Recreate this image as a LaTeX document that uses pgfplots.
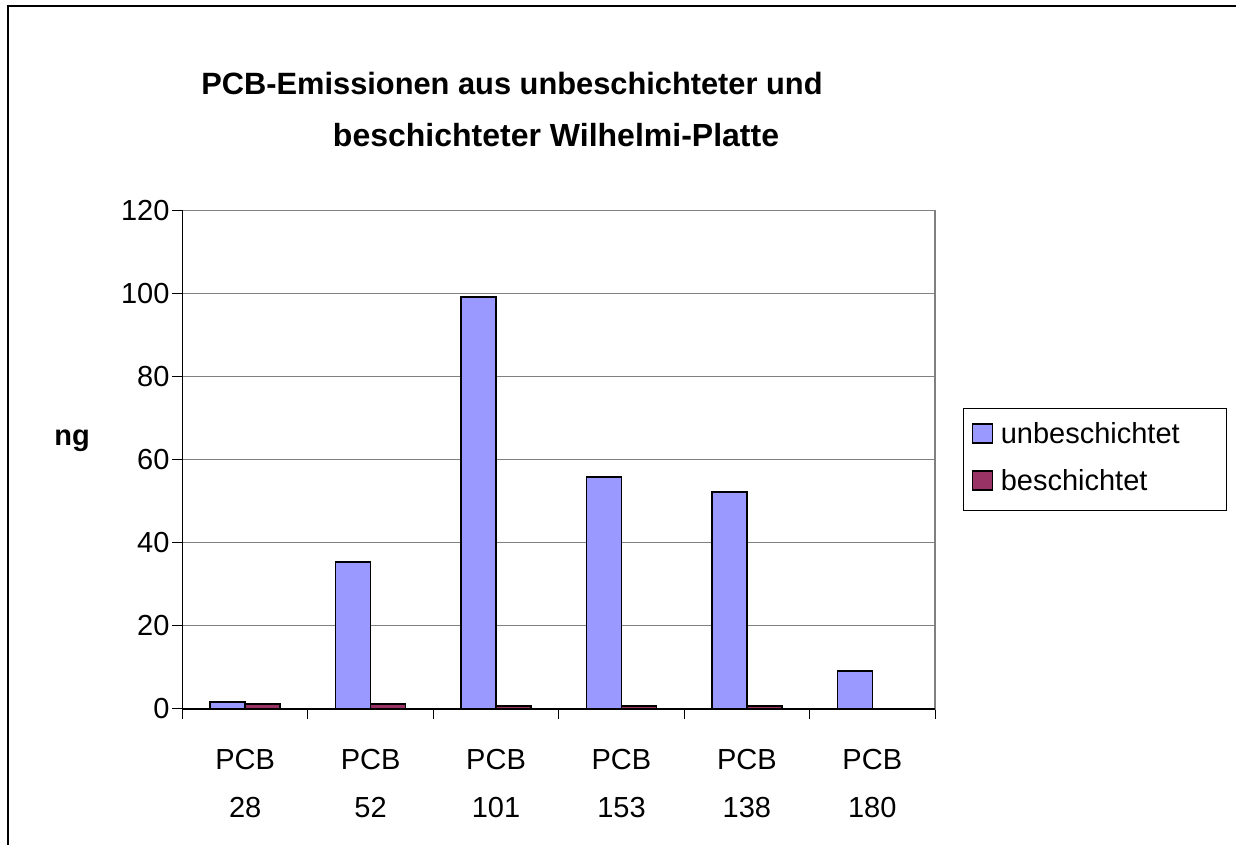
\documentclass[border=0pt]{standalone}
\usepackage{pgfplots}
\pgfplotsset{compat=1.18}
\usepackage{fontspec}
\setmainfont{Liberation Sans}
\definecolor{unb}{HTML}{9999FF}
\definecolor{bes}{HTML}{993366}
\definecolor{gridgray}{HTML}{808080}
\begin{document}
\begin{tikzpicture}
\path[use as bounding box] (0pt,0pt) rectangle (618pt,422.5pt);
\draw[black, line width=1.2pt] (4pt,0pt) -- (4pt,419.5pt) -- (618pt,419.5pt);
\node[font=\fontsize{15.4}{18}\selectfont\bfseries, anchor=base] at (256pt,375pt) {PCB-Emissionen aus unbeschichteter und};
\node[font=\fontsize{16}{18}\selectfont\bfseries, anchor=base] at (278pt,349pt) {beschichteter Wilhelmi-Platte};
\node[font=\fontsize{14.5}{17}\selectfont\bfseries] at (36pt,202pt) {ng};
\begin{axis}[
  at={(91.25pt,68pt)}, anchor=south west,
  scale only axis, width=376.25pt, height=249.25pt,
  ybar=0pt, bar width=17.5pt,
  xmin=-0.5, xmax=5.5, ymin=0, ymax=120,
  ytick={0,20,...,120},
  xtick={0,...,5},
  xticklabels={PCB\\28,PCB\\52,PCB\\101,PCB\\153,PCB\\138,PCB\\180},
  minor xtick={-0.5,0.5,...,5.5},
  tick pos=left, tick align=outside,
  major tick length=5pt, minor tick length=5pt,
  major x tick style={draw=none},
  tick style={black, line width=0.5pt},
  minor tick style={black, line width=0.5pt},
  ymajorgrids, major grid style={gridgray, line width=0.5pt},
  axis line style={gridgray, line width=0.8pt},
  /pgf/number format/assume math mode=true,
  ticklabel style={font=\fontsize{14.5}{24}\selectfont},
  xticklabel style={align=center, yshift=-11.5pt},
  yticklabel style={xshift=2pt},
  legend style={at={(rel axis cs:1.0372,0.6038)}, anchor=north west,
    draw=black, line width=0.6pt, font=\fontsize{14.5}{17}\selectfont,
    inner xsep=4pt, inner ysep=5pt, row sep=6pt,
    nodes={inner sep=2pt, text height=10.5pt, text depth=3pt}},
  legend cell align=left,
  legend image code/.code={\draw[#1, line width=0.6pt] (0pt,-3.5pt) rectangle (10pt,6pt);},
  clip=false,
]
\addplot[fill=unb, draw=black, line width=0.75pt] coordinates {(0,1.7) (1,35.4) (2,99.2) (3,55.8) (4,52.2) (5,9.2)};
\addlegendentry{\hspace{2pt}\makebox[107pt][l]{unbeschichtet}}
\addplot[fill=bes, draw=black, line width=0.75pt] coordinates {(0,1.2) (1,1.2) (2,0.7) (3,0.7) (4,0.7)};
\addlegendentry{\hspace{2pt}\makebox[107pt][l]{beschichtet}}
\draw[black, line width=0.6pt] (rel axis cs:0,1) -- (rel axis cs:0,0) -- (rel axis cs:1,0);
\end{axis}
\end{tikzpicture}
\end{document}
